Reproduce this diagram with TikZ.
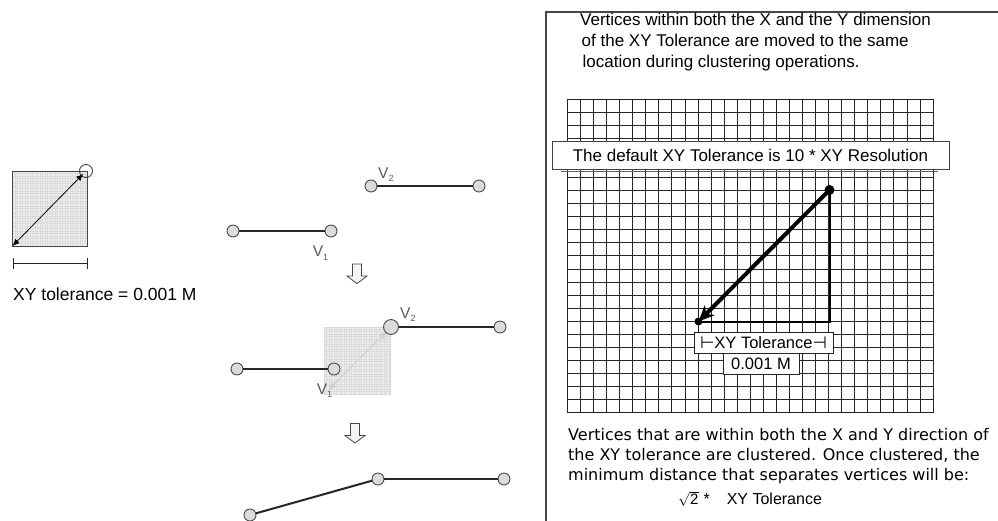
\documentclass[tikz,border=0pt]{standalone}
\usepackage{fontspec}
\setmainfont{Liberation Sans}
\newfontfamily\verdanalike{DejaVu Sans}
\usetikzlibrary{arrows.meta}
\newcommand\ptsize[1]{\fontsize{#1}{#1}\selectfont}
\newcommand\vsub[1]{\raisebox{-3.5pt}{\ptsize{9}#1}}

\tikzset{
  vertex/.style={circle,draw=gray!60!black,fill=gray!28,line width=0.9pt,
    minimum size=12pt,inner sep=0pt,outer sep=0pt},
  bigvertex/.style={vertex,minimum size=15pt},
  seg/.style={line width=2pt,draw=black!85},
  vlabel/.style={inner sep=0pt,anchor=base west,text=gray!70!black,font=\ptsize{15.5}},
  mesh/.style={fill=gray!12,inner sep=0pt,outer sep=0pt,
    path picture={
      \foreach \k in {0,...,32}{
        \draw[gray!28,line width=0.3pt]
          ([xshift={\k*2.5pt}]path picture bounding box.south west) --
          ([xshift={\k*2.5pt}]path picture bounding box.north west);
        \draw[gray!28,line width=0.3pt]
          ([yshift={\k*2.5pt}]path picture bounding box.south west) --
          ([yshift={\k*2.5pt}]path picture bounding box.south east);
      }}},
  downarrow/.pic={
    \draw[gray!55!black,fill=gray!8,line width=0.8pt,line join=miter]
      (-4.5,0) -- (4.5,0) -- (4.5,12) -- (10,12) -- (0,19.5) -- (-10,12) -- (-4.5,12) -- cycle;},
  gridline/.style={black!85,line width=1.1pt},
  ptext/.style={anchor=base west,inner sep=0pt,font=\ptsize{17}},
  btext/.style={anchor=base west,inner sep=0pt,font=\verdanalike\ptsize{16}},
  dot/.style={circle,fill=black,minimum size=10pt,inner sep=0pt,outer sep=0pt},
  tagbox/.style={draw=black!85,fill=white,line width=1pt,inner sep=0pt,outer sep=0pt,font=\ptsize{16.5}},
}

\begin{document}
\begin{tikzpicture}[x=1pt,y=-1pt]
\useasboundingbox (0,0) rectangle (998,520);

% ---- single tolerance square on the left ----
\node[mesh,draw=gray!55!black,line width=1pt,minimum size=75pt] (tolsq) at (50,208.5) {};
\node[circle,draw=gray!55!black,line width=0.9pt,minimum size=13pt,inner sep=0pt] (corner) at (86,171) {};
\draw[black,line width=0.8pt,shorten >=4pt,
  {Latex[length=7pt,width=6pt]}-{Latex[length=7pt,width=6pt]}] (tolsq.south west) -- (corner.center);
\draw[gray!30!black,line width=1pt,{Bar[width=11pt]}-{Bar[width=11pt]}]
  ([yshift=-17pt]tolsq.south west) -- ([yshift=-17pt]tolsq.south east);
\node[ptext,font=\ptsize{17.5}] (tollabel) at (13,300.7) {XY tolerance = 0.001 M};

% ---- step 1: two separate lines ----
\node[vertex] (a1) at (233,231) {};
\node[vertex] (a2) at (331,231) {};
\node[vertex] (b1) at (371,186) {};
\node[vertex] (b2) at (479,186) {};
\draw[seg] (a1) -- (a2);
\draw[seg] (b1) -- (b2);
\node[vlabel] (v1a) at (312.7,256.7) {V\vsub{1}};
\node[vlabel] (v2a) at (378,178.3) {V\vsub{2}};

\pic at (357,264) {downarrow};

% ---- step 2: tolerance square between the vertices ----
\node[mesh,draw=gray!30,minimum width=66pt,minimum height=67pt] (sq2) at (357,360.5) {};
\draw[gray!38,line width=0.9pt,{Latex[length=8pt,width=7pt]}-{Latex[length=8pt,width=7pt]}]
  ([shift={(4pt,4pt)}]sq2.south west) -- ([shift={(-3pt,-4pt)}]sq2.north east);
\node[vertex] (c1) at (237,369) {};
\node[vertex] (c2) at (334,369) {};
\node[bigvertex] (d1) at (391,327) {};
\node[vertex] (d2) at (500,327) {};
\draw[seg] (c1) -- (c2);
\draw[seg] (d1) -- (d2);
\node[vlabel] (v2b) at (400,318.3) {V\vsub{2}};
\node[vlabel] (v1b) at (316.7,394) {V\vsub{1}};

\pic at (355,423.5) {downarrow};

% ---- step 3: clustered result ----
\node[vertex] (e1) at (250,515) {};
\node[vertex] (e2) at (378,479) {};
\node[vertex] (e3) at (504,479) {};
\draw[seg] (e1) -- (e2);
\draw[seg] (e2) -- (e3);

% ---- explanation panel ----
\draw[gray!55!black,line width=1.5pt] (546,530) -- (546,12) -- (1010,12);
\node[ptext] (t1) at (580,25.7) {Vertices within both the X and the Y dimension};
\node[ptext] (t2) at (581.5,46.7) {of the XY Tolerance are moved to the same};
\node[ptext] (t3) at (582.5,67.5) {location during clustering operations.};

% resolution grid, lines snapped to whole pixels
\foreach \i [evaluate=\i as \gx using {round(567+\i*13.06)+0.5}] in {0,...,28}
  \draw[gridline] (\gx,99) -- (\gx,413);
\foreach \j [evaluate=\j as \gy using {round(99+\j*13.04)+0.5}] in {0,...,24}
  \draw[gridline] (567,\gy) -- (933.5,\gy);

\node[draw=black!75,fill=white,line width=1pt,minimum width=397pt,minimum height=28pt,
  inner sep=0pt,outer sep=0pt,font=\ptsize{17}] (banner) at (750.5,155)
  {The default XY Tolerance is 10 * XY Resolution};
\draw[black!60,line width=1pt] ([shift={(9pt,-2pt)}]banner.south west) -- ([shift={(-11pt,-2pt)}]banner.south east);

\node[dot] (p) at (829.5,190) {};
\node[dot,minimum size=8pt] (q) at (698.5,321.5) {};
\draw[black,line width=2pt] (p.center) |- (q.center);
\draw[black,line width=4pt,-{Stealth[length=16pt,width=14pt]}] (p.center) -- (q.center);

\node[tagbox,minimum width=139pt,minimum height=21pt] (tolbox) at (763.5,342.5)
  {{\verdanalike ⊢}XY Tolerance{\verdanalike ⊣}};
\node[tagbox,minimum width=76pt,minimum height=21pt] (valbox) at (761,363.5) {0.001 M};

\node[btext] (u1) at (568,440) {Vertices that are within both the X and Y direction of};
\node[btext] (u2) at (568,460.5) {the XY tolerance are clustered. Once clustered, the};
\node[btext] (u3) at (568,480.5) {minimum distance that separates vertices will be:};
\node[anchor=base west,inner sep=0pt,font=\ptsize{16}] (formula) at (678,504.5)
  {\raisebox{0pt}[11pt][0pt]{\ptsize{15}$\sqrt{\hbox{2}}$}\hspace{5pt}*\hspace{17pt}XY Tolerance};
\end{tikzpicture}
\end{document}
